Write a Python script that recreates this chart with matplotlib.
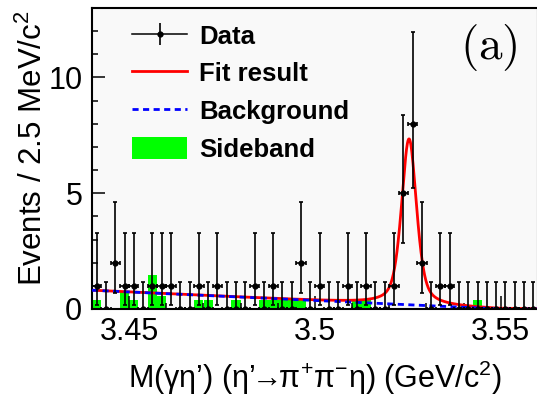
import numpy as np
import matplotlib
matplotlib.use('Agg')
import matplotlib.pyplot as plt
from matplotlib.lines import Line2D
from matplotlib.patches import Patch
from matplotlib.legend_handler import HandlerTuple

plt.rcParams['font.family'] = ['Liberation Sans', 'DejaVu Sans']
plt.rcParams['mathtext.fontset'] = 'custom'
plt.rcParams['mathtext.rm'] = 'Liberation Sans'
plt.rcParams['mathtext.it'] = 'Liberation Sans:italic'
plt.rcParams['mathtext.bf'] = 'Liberation Sans:bold'

# binning: 2.5 MeV bins from 3.44 to 3.56 GeV
BIN_LO = 3.44
BIN_W = 0.0025
N_BINS = 48

counts = [1, 0, 2, 1, 1, 0, 1, 1, 1, 0, 0, 1, 0, 1, 0, 0,
          0, 1, 0, 1, 0, 0, 2, 0, 1, 0, 0, 1, 0, 1, 0, 0,
          1, 5, 8, 2, 0, 1, 1, 0, 0, 0, 0, 0, 0, 0, 0, 0]

# asymmetric (Poisson-like) error bars per count value
err_count = [0, 1, 2, 5, 8]
err_low = [0.0, 0.83, 1.29, 2.16, 2.77]
err_high = [1.15, 2.30, 2.64, 3.38, 3.95]

sideband = [0.37, 0, 0, 0.74, 0.37, 0, 1.45, 0.55, 0, 0, 0, 0.37, 0.37, 0, 0, 0.37,
            0, 0, 0.37, 0.37, 0.37, 0.37, 0.37, 0, 0, 0, 0, 0, 0.37, 0.37, 0, 0,
            0, 0, 0, 0, 0, 0, 0, 0, 0, 0.37, 0, 0, 0, 0, 0, 0]

# fit result parameters: linear background + peak (pseudo-Voigt shape)
bkg_at_lo = 0.81        # events/bin at 3.44
bkg_slope = -7.4        # events/bin per GeV
peak_mass = 3.5253
peak_height = 7.17
peak_hwhm = 0.0024
peak_lorentz_frac = 0.5

x_ticks = [3.45, 3.50, 3.55]
x_tick_labels = ['3.45', '3.5', '3.55']
y_ticks = [0, 5, 10]

edges = BIN_LO + BIN_W * np.arange(N_BINS + 1)
centers = 0.5 * (edges[:-1] + edges[1:])
counts = np.array(counts)
lo = np.array([err_low[err_count.index(c)] for c in counts])
hi = np.array([err_high[err_count.index(c)] for c in counts])

xf = np.linspace(BIN_LO, BIN_LO + N_BINS * BIN_W, 1500)
bkg = np.clip(bkg_at_lo + bkg_slope * (xf - BIN_LO), 0, None)
u = ((xf - peak_mass) / peak_hwhm) ** 2
sig = peak_height * (peak_lorentz_frac / (1 + u) + (1 - peak_lorentz_frac) * np.exp(-np.log(2) * u))
fit = bkg + sig

fig = plt.figure(figsize=(5.37, 3.99), dpi=100)
ax = fig.add_axes([92 / 537, 90 / 399, 446 / 537, 301 / 399])
ax.set_facecolor('#f9f9f9')

ax.bar(edges[:-1], sideband, width=BIN_W, align='edge', color='#00ff00',
       linewidth=0, zorder=1)
ax.plot(xf, fit, color='#ff0000', lw=2.0, zorder=2)
ax.plot(xf, bkg, color='#0000ff', lw=2.0, ls=(0, (2.2, 1.6)), zorder=3)
ax.errorbar(centers, counts, yerr=[lo, hi], xerr=BIN_W / 2, fmt='o', ms=3.5,
            color='black', ecolor='black', elinewidth=1.2, capsize=1.6,
            capthick=1.2, zorder=4)

ax.set_xlim(BIN_LO, BIN_LO + N_BINS * BIN_W)
ax.set_ylim(0, 13)
ax.set_xticks(x_ticks)
ax.set_xticklabels(x_tick_labels)
ax.set_xticks(np.arange(3.44, 3.561, 0.01), minor=True)
ax.set_yticks(y_ticks)
ax.set_yticks(np.arange(0, 13.1, 1), minor=True)
ax.tick_params(which='both', direction='in', top=False, right=False,
               width=1.1, labelsize=22)
ax.tick_params(which='major', length=9.5)
ax.tick_params(which='minor', length=4.5)
ax.tick_params(axis='y', pad=7)
ax.tick_params(axis='x', pad=6)
for s in ['left', 'bottom', 'top', 'right']:
    ax.spines[s].set_linewidth(1.5)

ax.set_ylabel('Events / 2.5 MeV/c$^{2}$', fontsize=22.5)
ax.yaxis.set_label_coords(-0.097, 0.535)
ax.set_xlabel('M(\u03b3\u03b7\u2019) (\u03b7\u2019$\\!\\!\\rightarrow\\!\\!$\u03c0$^{+}$\u03c0$^{-}$\u03b7) (GeV/c$^{2}$)',
              fontsize=22)
ax.xaxis.set_label_coords(0.499, -0.165)

ax.text(0.89, 0.869, '$\\mathrm{(a)}$', transform=ax.transAxes, fontsize=34,
        ha='center', va='center', math_fontfamily='cm')

h_data = (Line2D([], [], color='black', lw=1.1),
          Line2D([], [], color='black', lw=0, marker='|', ms=16, mew=1.2),
          Line2D([], [], color='black', lw=0, marker='o', ms=3.5))
h_fit = Line2D([], [], color='#ff0000', lw=2.0)
h_bkg = Line2D([], [], color='#0000ff', lw=2.0, ls=(0, (2.2, 1.6)))
h_sb = Patch(facecolor='#00ff00', edgecolor='none')
ax.legend([h_data, h_fit, h_bkg, h_sb], ['Data', 'Fit result', 'Background', 'Sideband'],
          handler_map={tuple: HandlerTuple(ndivide=1, pad=0)},
          loc='upper left', bbox_to_anchor=(0.09, 0.948), frameon=False,
          borderpad=0, borderaxespad=0, handlelength=2.15, handletextpad=0.46,
          handleheight=0.95, labelspacing=0.5, prop={'weight': 'bold', 'size': 18.5})

fig.savefig('out.png', dpi=100)
